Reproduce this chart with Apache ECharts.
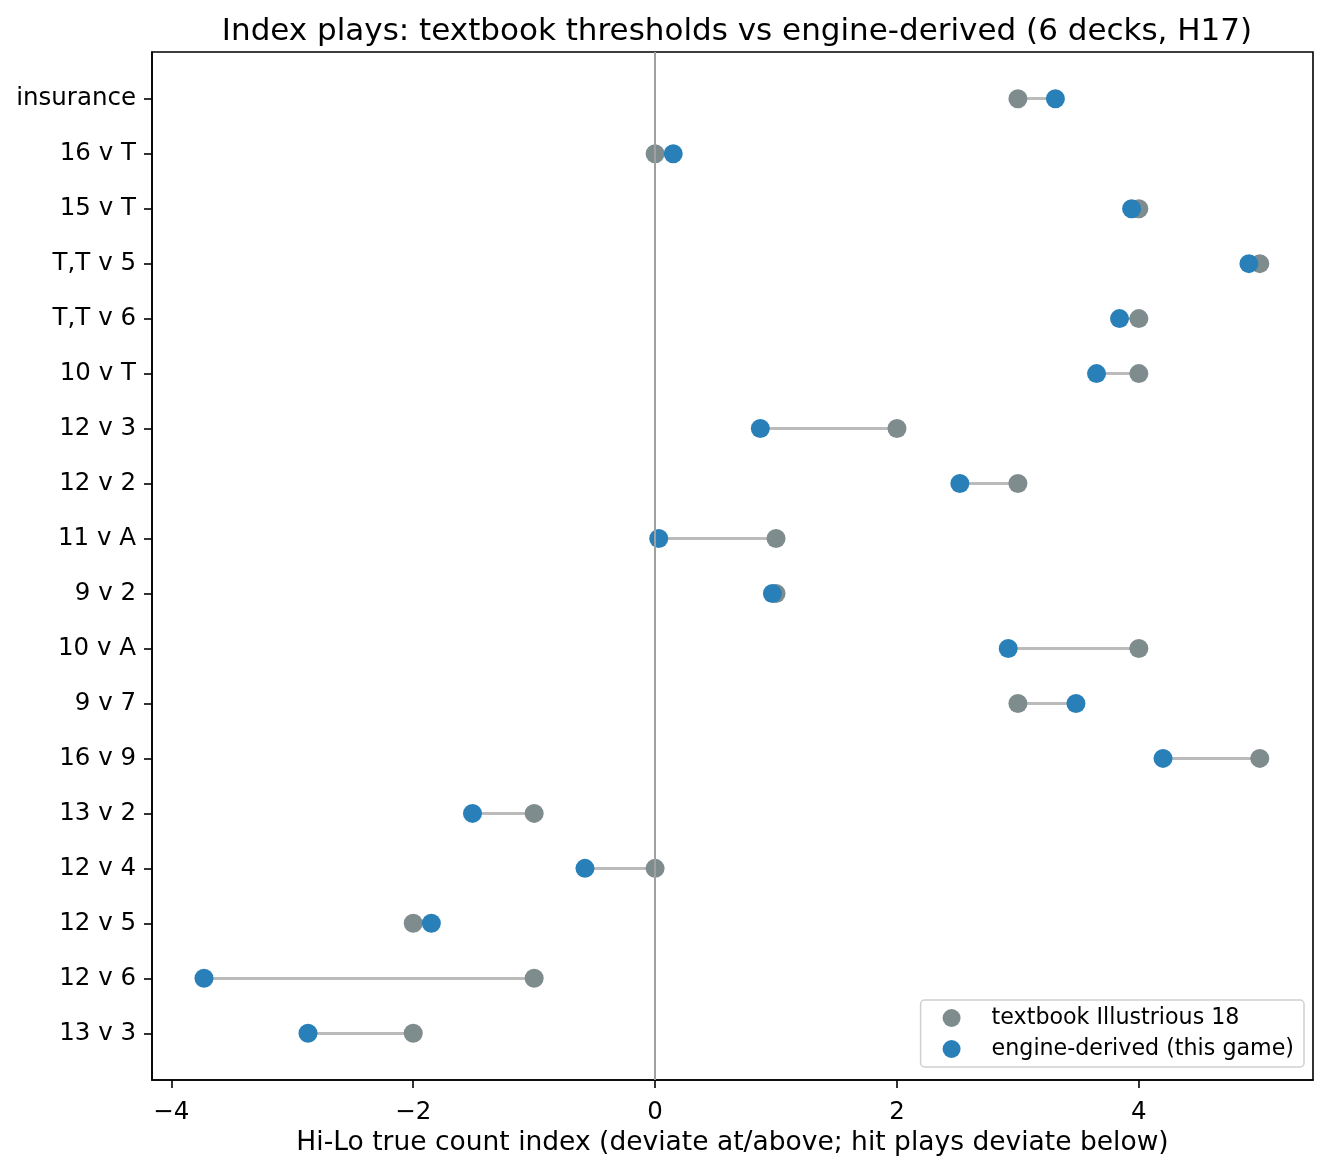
<!DOCTYPE html>
<html>
<head>
<meta charset="utf-8">
<script src="https://cdn.jsdelivr.net/npm/echarts@6/dist/echarts.min.js"></script>
<style>
  html, body { margin: 0; padding: 0; background: #fff; }
  #chart { width: 1330px; height: 1170px; }
</style>
</head>
<body>
<div id="chart"></div>
<script>
// rows, top to bottom
var plays = ['insurance', '16 v T', '15 v T', 'T,T v 5', 'T,T v 6', '10 v T', '12 v 3', '12 v 2', '11 v A',
  '9 v 2', '10 v A', '9 v 7', '16 v 9', '13 v 2', '12 v 4', '12 v 5', '12 v 6', '13 v 3'];
// textbook Illustrious 18 index
var textbook = [3, 0, 4, 5, 4, 4, 2, 3, 1, 1, 4, 3, 5, -1, 0, -2, -1, -2];
// engine-derived index
var engine = [3.31, 0.15, 3.94, 4.91, 3.84, 3.65, 0.87, 2.52, 0.03, 0.97, 2.92, 3.48, 4.2, -1.51, -0.58, -1.85, -3.73, -2.87];
var xTicks = [-4, -2, 0, 2, 4];

var FONT = 'DejaVu Sans';
var rowIdx = plays.map(function (p, i) { return i; });

var myChart = echarts.init(document.getElementById('chart'));
myChart.setOption({
  animation: false,
  textStyle: { fontFamily: FONT, color: '#000' },
  title: {
    text: 'Index plays: textbook thresholds vs engine-derived (6 decks, H17)',
    left: 732, top: 11, textAlign: 'center',
    textStyle: { fontFamily: FONT, fontSize: 31, fontWeight: 'normal', color: '#000' }
  },
  grid: {
    left: 152, right: 17, top: 52, bottom: 90,
    show: true, borderColor: '#000', borderWidth: 1.6, backgroundColor: 'transparent'
  },
  legend: {
    orient: 'vertical',
    right: 26, bottom: 103,
    icon: 'circle',
    itemWidth: 30, itemHeight: 18, itemGap: 9,
    padding: [7, 10, 7, 22],
    backgroundColor: 'rgba(255,255,255,0.8)',
    borderColor: '#d0d0d0', borderWidth: 1.5, borderRadius: 4,
    textStyle: { fontFamily: FONT, fontSize: 22.2, color: '#000', padding: [0, 0, 0, 20] },
    data: ['textbook Illustrious 18', 'engine-derived (this game)']
  },
  xAxis: {
    type: 'value',
    min: -4.16, max: 5.44,
    name: 'Hi-Lo true count index (deviate at/above; hit plays deviate below)',
    nameLocation: 'middle', nameGap: 47,
    nameTextStyle: { fontFamily: FONT, fontSize: 26.5, color: '#000' },
    splitLine: { show: false },
    axisLine: { onZero: false, lineStyle: { color: '#000', width: 1.6 } },
    axisTick: { show: true, length: 8, lineStyle: { color: '#000', width: 1.6 }, customValues: xTicks },
    axisLabel: {
      customValues: xTicks, margin: 20, fontSize: 24.5, color: '#000', fontFamily: FONT,
      formatter: function (v) { return v < 0 ? '\u2212' + Math.abs(v) : String(v); }
    }
  },
  yAxis: {
    type: 'value',
    inverse: true,
    min: -0.85, max: 17.85,
    splitLine: { show: false },
    axisLine: { onZero: false, lineStyle: { color: '#000', width: 1.6 } },
    axisTick: { show: true, length: 8, lineStyle: { color: '#000', width: 1.6 }, customValues: rowIdx },
    axisLabel: {
      customValues: rowIdx, margin: 16, fontSize: 24.5, color: '#000', fontFamily: FONT,
      padding: [4, 0, 0, 0],
      formatter: function (v) { return plays[Math.round(v)]; }
    }
  },
  series: [
    {
      type: 'lines',
      coordinateSystem: 'cartesian2d',
      silent: true,
      z: 1,
      lineStyle: { color: '#bbbbbb', width: 3, opacity: 1 },
      data: plays.map(function (p, i) { return { coords: [[textbook[i], i], [engine[i], i]] }; }),
      markLine: {
        silent: true, symbol: 'none', label: { show: false },
        lineStyle: { color: '#a0a0a0', width: 2, type: 'solid' },
        data: [{ xAxis: 0 }]
      }
    },
    {
      name: 'textbook Illustrious 18',
      type: 'scatter',
      z: 3,
      symbolSize: 19,
      itemStyle: { color: '#7f8c8d', opacity: 1 },
      data: textbook.map(function (v, i) { return [v, i]; })
    },
    {
      name: 'engine-derived (this game)',
      type: 'scatter',
      z: 4,
      symbolSize: 19,
      itemStyle: { color: '#2980b9', opacity: 1 },
      data: engine.map(function (v, i) { return [v, i]; })
    }
  ]
});
</script>
</body>
</html>
